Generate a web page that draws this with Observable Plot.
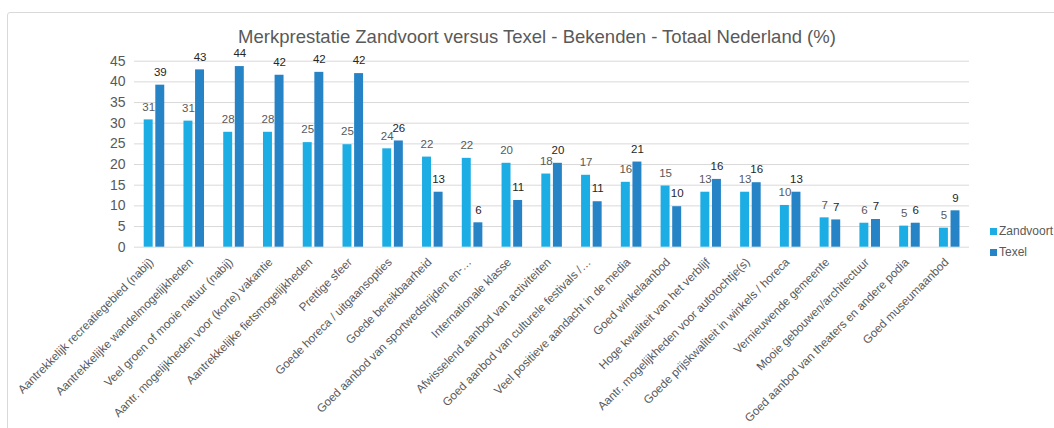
<!DOCTYPE html>
<html><head><meta charset="utf-8">
<script src="https://cdn.jsdelivr.net/npm/d3@7"></script>
<script src="https://cdn.jsdelivr.net/npm/@observablehq/plot@0.6"></script>
<style>
body{margin:0;background:#fff;font-family:"Liberation Sans",Arial,sans-serif;}
#wrap{position:relative;width:1054px;height:428px;overflow:hidden;}
#frame{position:absolute;left:7px;top:12px;width:1100px;height:500px;border:1px solid #d9d9d9;border-radius:3px;box-sizing:border-box;}
#title{position:relative;box-sizing:border-box;height:46px;padding-top:27px;line-height:19px;font-size:18.5px;color:#595959;text-align:center;padding-left:20px;}
#chart{position:relative;}
#chart svg{display:block;}
#legend{position:absolute;left:990px;top:221px;font-size:12px;color:#595959;line-height:21px;}
#legend .sw{display:inline-block;width:7px;height:7px;margin-right:2px;vertical-align:0px;}
</style>
</head><body>
<div id="wrap">
<div id="frame"></div>
<div id="title">Merkprestatie Zandvoort versus Texel - Bekenden - Totaal Nederland (%)</div>
<div id="chart"></div>
<div id="legend"></div>
</div>
<script>
const categories = [
  "Aantrekkelijk recreatiegebied (nabij)",
  "Aantrekkelijke wandelmogelijkheden",
  "Veel groen of mooie natuur (nabij)",
  "Aantr. mogelijkheden voor (korte) vakantie",
  "Aantrekkelijke fietsmogelijkheden",
  "Prettige sfeer",
  "Goede horeca / uitgaansopties",
  "Goede bereikbaarheid",
  "Goed aanbod van sportwedstrijden en-…",
  "Internationale klasse",
  "Afwisselend aanbod van activiteiten",
  "Goed aanbod van culturele festivals /…",
  "Veel positieve aandacht in de media",
  "Goed winkelaanbod",
  "Hoge kwaliteit van het verblijf",
  "Aantr. mogelijkheden voor autotochtje(s)",
  "Goede prijskwaliteit in winkels / horeca",
  "Vernieuwende gemeente",
  "Mooie gebouwen/architectuur",
  "Goed aanbod van theaters en andere podia",
  "Goed museumaanbod"
];
const series = ["Zandvoort", "Texel"];
const zandvoort = [30.8, 30.5, 27.8, 27.8, 25.3, 24.8, 23.8, 21.8, 21.5, 20.3, 17.7, 17.4, 15.7, 14.8, 13.3, 13.3, 10.1, 7.1, 5.8, 5.1, 4.6];
const texel = [39.2, 42.9, 43.7, 41.6, 42.3, 42.0, 25.7, 13.3, 5.9, 11.3, 20.3, 11.0, 20.6, 9.8, 16.4, 15.6, 13.3, 6.6, 6.7, 5.8, 8.8];
const yTicks = [0, 5, 10, 15, 20, 25, 30, 35, 40, 45];
const colors = ["#1CADE4", "#2683C6"];
const labelColors = ["#595959", "#262626"];

const zData = categories.map((c, i) => ({cat: c, series: series[0], value: zandvoort[i]}));
const tData = categories.map((c, i) => ({cat: c, series: series[1], value: texel[i]}));
const fmt = d => String(Math.round(d.value));

const chart = Plot.plot({
  width: 1054,
  height: 382,
  marginLeft: 134,
  marginRight: 85,
  marginTop: 14.7,
  marginBottom: 181.3,
  style: {fontFamily: "'Liberation Sans', Arial, sans-serif", background: "transparent", overflow: "visible"},
  x: {domain: categories, padding: 0, round: false, label: null},
  y: {domain: [0, 45], label: null},
  marks: [
    Plot.gridY(yTicks, {stroke: "#d9d9d9", strokeOpacity: 1, strokeWidth: 1}),
    Plot.axisY({ticks: yTicks, tickSize: 0, tickPadding: 9, fontSize: 14, fill: "#595959", label: null}),
    Plot.axisX({tickRotate: -45, tickSize: 0, tickPadding: 6, fontSize: 11.7, fill: "#595959", label: null, lineWidth: Infinity, textOverflow: null, dx: -3, dy: 7}),
    Plot.barY(zData, {x: "cat", y: "value", fill: colors[0], insetLeft: 9.7, insetRight: 21.1}),
    Plot.barY(tData, {x: "cat", y: "value", fill: colors[1], insetLeft: 21.3, insetRight: 9.5}),
    Plot.text(zData, {x: "cat", y: "value", text: fmt, dx: -5.7, dy: -13, fill: labelColors[0], fontSize: 11.5}),
    Plot.text(tData, {x: "cat", y: "value", text: fmt, dx: 5.9, dy: -13, fill: labelColors[1], fontSize: 11.5})
  ]
});
document.getElementById("chart").appendChild(chart);

const legend = document.getElementById("legend");
series.forEach((s, i) => {
  const row = document.createElement("div");
  row.innerHTML = `<span class="sw" style="background:${colors[i]}"></span>${s}`;
  legend.appendChild(row);
});
</script>
</body></html>
